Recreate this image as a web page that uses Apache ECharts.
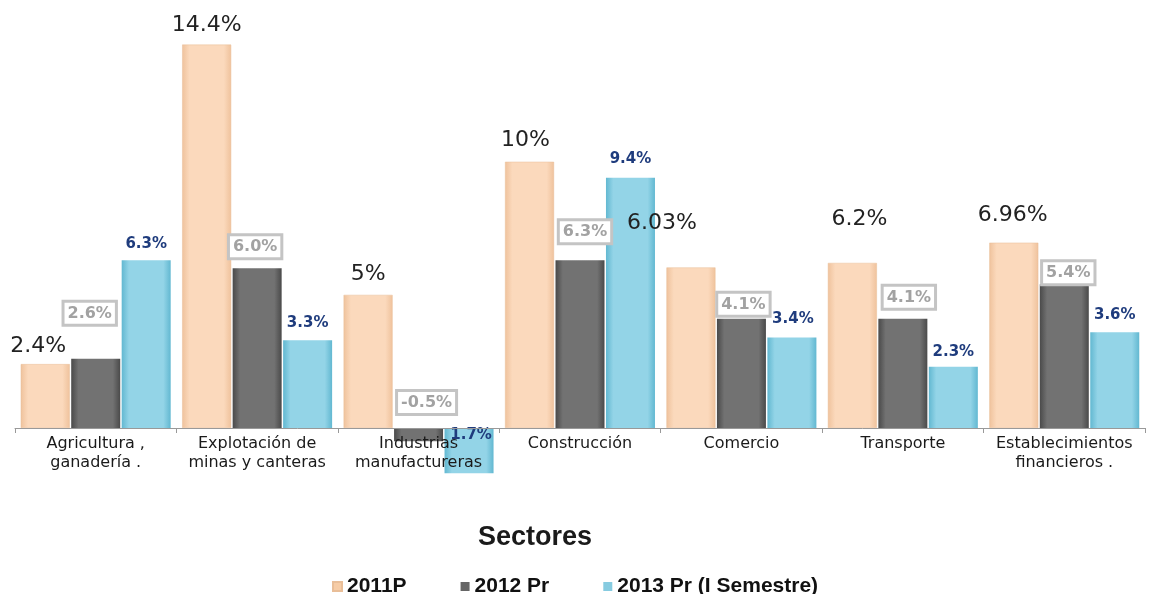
<!DOCTYPE html>
<html><head><meta charset="utf-8">
<script src="https://cdn.jsdelivr.net/npm/echarts@6/dist/echarts.min.js"></script>
<style>html,body{margin:0;padding:0;background:#fff}#c{width:1150px;height:594px}</style>
</head><body><div id="c"></div>
<script>
const categories = ['Agricultura ,\nganadería .', 'Explotación de\nminas y canteras', 'Industrias\nmanufactureras', 'Construcción', 'Comercio', 'Transporte', 'Establecimientos\nfinancieros .'];
const seriesNames = ['2011P', '2012 Pr', '2013 Pr (I Semestre)'];
const v2011 = [2.4, 14.4, 5.0, 10.0, 6.03, 6.2, 6.96];
const v2012 = [2.6, 6.0, -0.5, 6.3, 4.1, 4.1, 5.4];
const v2013 = [6.3, 3.3, -1.7, 9.4, 3.4, 2.3, 3.6];
const t2011 = ['2.4%', '14.4%', '5%', '10%', '6.03%', '6.2%', '6.96%'];
const t2012 = ['2.6%', '6.0%', '-0.5%', '6.3%', '4.1%', '4.1%', '5.4%'];
const t2013 = ['6.3%', '3.3%', '1.7%', '9.4%', '3.4%', '2.3%', '3.6%'];

// label nudges (layout only)
const off2011 = [[-7,-2],[0,-3],[0,-5],[-4,-5],[-29,-28],[7,-28],[-1,-11]];
const off2012 = [[-6,-30],[-2,-6],[8,-10],[5,-13],[2,1],[6,-6],[4,4]];
const off2013 = [[0,-4],[0,-5],[2,20],[0,-6],[1,-6],[0,-2],[0,-5]];

function grad(e, c) {
  return new echarts.graphic.LinearGradient(0, 0, 1, 0, [
    {offset: 0, color: e}, {offset: 0.15, color: c}, {offset: 0.85, color: c}, {offset: 1, color: e}
  ]);
}
const colors = [grad('#EFC29C', '#FBD9BC'), grad('#4A4A4A', '#727272'), grad('#62B8D1', '#93D4E7')];
const legendColors = ['#F6CCA6', '#666666', '#86CBE0'];

function mk(vals, texts, offs) {
  return vals.map((v, i) => ({value: v, label: {offset: offs[i], formatter: texts[i]}}));
}

const chart = echarts.init(document.getElementById('c'));
chart.setOption({
  animation: false,
  grid: {left: 15, right: 5, top: 2, height: 426},
  legend: {
    left: 327, top: 571, itemWidth: 9, itemHeight: 9, itemGap: 54, icon: 'rect',
    textStyle: {fontFamily: 'Liberation Sans', fontWeight: 'bold', fontSize: 21, color: '#111'},
    data: seriesNames.map((n, i) => ({name: n, itemStyle: {color: legendColors[i]}}))
  },
  graphic: [{type: 'text', left: 478, top: 524, style: {text: 'Sectores', font: 'bold 27px "Liberation Sans"', fill: '#1a1a1a'}}],
  xAxis: {
    type: 'category', data: categories, z: 10,
    axisLine: {lineStyle: {color: '#999', width: 1}},
    axisTick: {show: true, length: 5, lineStyle: {color: '#999'}},
    axisLabel: {margin: 6, color: '#1a1a1a', fontFamily: 'DejaVu Sans', fontSize: 16, lineHeight: 19, interval: 0}
  },
  yAxis: {type: 'value', min: 0, max: 16, show: false, splitLine: {show: false}},
  series: [
    {name: seriesNames[0], type: 'bar', clip: false, barWidth: 49, barGap: '3%', itemStyle: {color: colors[0], borderColor: '#E9BE98', borderWidth: 0.5},
     label: {show: true, position: 'top', fontFamily: 'DejaVu Sans', fontSize: 22, color: '#222'},
     data: mk(v2011, t2011, off2011)},
    {name: seriesNames[1], type: 'bar', clip: false, barWidth: 49, barGap: '3%', itemStyle: {color: colors[1]},
     label: {show: true, position: 'top', fontFamily: 'DejaVu Sans', fontWeight: 'bold', fontSize: 16, color: '#A2A2A2',
       backgroundColor: '#fff', borderColor: '#C4C4C4', borderWidth: 3, padding: [3, 3, 2, 3]},
     data: mk(v2012, t2012, off2012)},
    {name: seriesNames[2], type: 'bar', clip: false, barWidth: 49, barGap: '3%', itemStyle: {color: colors[2]},
     label: {show: true, position: 'top', fontFamily: 'DejaVu Sans', fontWeight: 'bold', fontSize: 15, color: '#1F3C7D'},
     data: mk(v2013, t2013, off2013)}
  ]
});
</script></body></html>
